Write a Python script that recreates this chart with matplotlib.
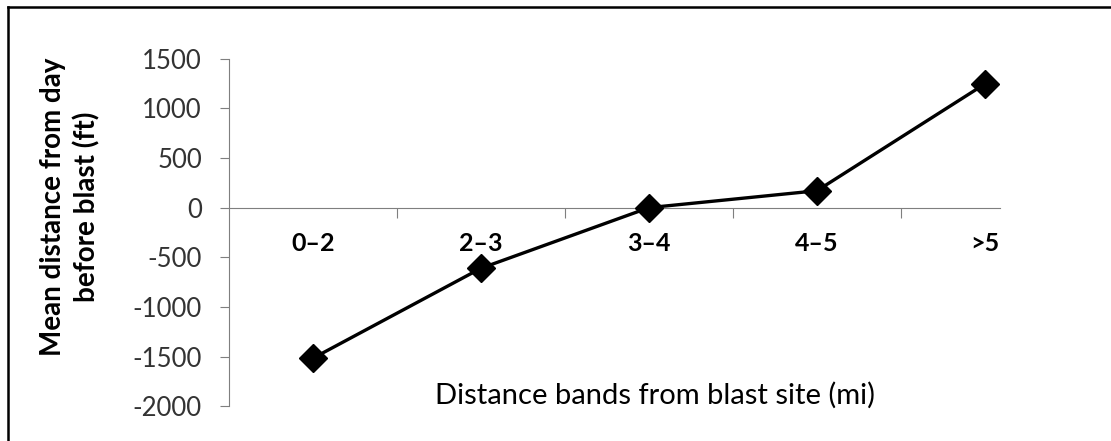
import matplotlib.pyplot as plt
from matplotlib.lines import Line2D

bands = ['0\u20132', '2\u20133', '3\u20134', '4\u20135', '>5']
mean_dist = [-1515, -610, 0, 170, 1245]
yticks = [-2000, -1500, -1000, -500, 0, 500, 1000, 1500]

plt.rcParams['font.family'] = ['Lato', 'DejaVu Sans']

fig = plt.figure(figsize=(11.11, 4.41), dpi=100)
ax = fig.add_axes([0.2061, 0.0785, 0.756, 0.7886])

x = list(range(len(bands)))
ax.plot(x, mean_dist, color='black', lw=2.4, marker='D', ms=14, zorder=3, clip_on=False)

ax.set_xlim(-0.5, 4.5)
ax.set_ylim(-2000, 1500)
ax.set_yticks(yticks)
ax.set_yticklabels([str(v) for v in yticks], fontsize=18.5, color='#333333')

ax.spines['top'].set_visible(False)
ax.spines['right'].set_visible(False)
ax.spines['left'].set_color('#7f7f7f')
ax.spines['bottom'].set_color('#7f7f7f')
ax.spines['bottom'].set_position(('data', 0))
ax.spines['bottom'].set_bounds(-0.5, 4.09)
ax.tick_params(axis='y', direction='out', length=6.5, color='#7f7f7f', pad=13)
ax.set_xticks([0.5, 1.5, 2.5, 3.5])
ax.set_xticklabels([])
ax.tick_params(axis='x', direction='out', length=7, color='#7f7f7f')

for i, b in enumerate(bands):
    ax.annotate(b, (i, 0), xytext=(0, -26), textcoords='offset points',
                ha='center', va='center', fontsize=18, fontweight='bold')

fig.text(0.59, 1 - 395 / 441, 'Distance bands from blast site (mi)', fontsize=21,
         ha='center', va='center')
fig.text(70 / 1111, 1 - 207 / 441, 'Mean distance from day\nbefore blast (ft)', fontsize=20,
         fontweight='bold', rotation=90, ha='center', va='center', linespacing=1.35)

# chart border (cropped: only left and top visible)
fig.add_artist(Line2D([8 / 1111, 8 / 1111], [0, 1 - 7 / 441], color='black', lw=1.8,
                      transform=fig.transFigure))
fig.add_artist(Line2D([8 / 1111, 1], [1 - 7 / 441, 1 - 7 / 441], color='black', lw=1.8,
                      transform=fig.transFigure))

fig.savefig('out.png', dpi=100)
